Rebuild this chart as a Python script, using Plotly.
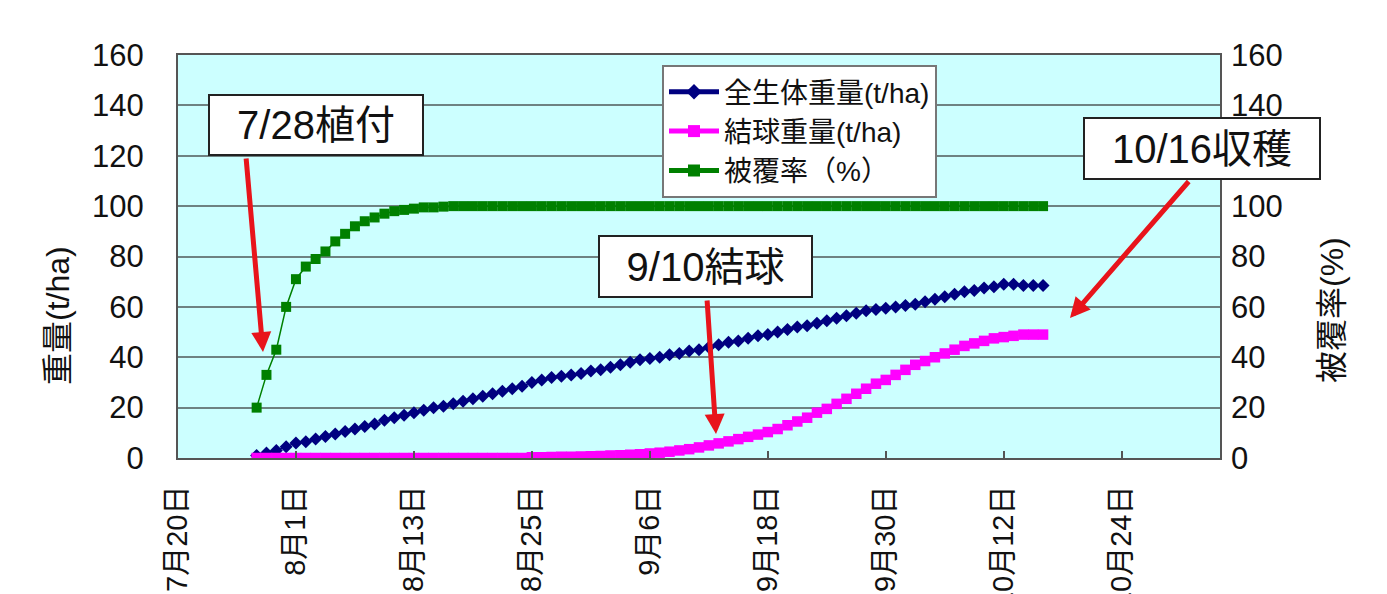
import pandas as pd
import plotly.graph_objects as go

# ---- data (daily, 7/28 .. 10/16) ----
start_date = "2011-07-28"

total_weight = [
    1, 2, 3, 4.5,                                   # Jul 28-31
    6, 6.5, 7.5, 8.5, 9.5, 10.5, 11.5, 12.5, 13.5, 15,
    16, 17, 18, 19, 20, 20.5, 21.5, 22.5, 23.5, 24.5,
    25.5, 26.5, 27.5, 28.5, 30, 31, 32, 32.5, 33, 33.5, 34.5,   # Aug
    35, 36, 37, 38, 39, 39.5, 40, 41, 41.5, 42.5,
    43, 44, 45, 46, 46.5, 47.5, 48.5, 49, 50, 51,
    52, 52.5, 53.5, 54.5, 55.5, 56.5, 57.5, 58.5, 59, 59.5,     # Sep
    60, 60.5, 61, 62, 63, 64, 65, 66, 66.5, 67.5,
    68, 69, 69, 68.5, 68.5, 68.5,                   # Oct 1-16
]

head_weight = [
    0, 0, 0, 0,
    0, 0, 0, 0, 0, 0, 0, 0, 0, 0,
    0, 0, 0, 0, 0, 0, 0, 0, 0, 0,
    0, 0, 0, 0, 0.3, 0.3, 0.4, 0.5, 0.5, 0.6, 0.7,
    0.8, 1, 1.1, 1.3, 1.5, 1.8, 2.1, 2.5, 3, 3.5,
    4.2, 5, 5.8, 6.6, 7.5, 8.4, 9.3, 10.3, 11.5, 13,
    14.5, 16, 18, 19.5, 21.5, 23.5, 25.5, 27.5, 29.5, 31,
    33, 35, 37, 38.5, 40, 41.5, 43, 44.5, 45.5, 46.5,
    47.5, 48, 48.5, 49, 49, 49,
]

coverage = [
    20, 33, 43, 60,
    71, 76, 79, 82, 86, 89, 92, 94, 95.5, 97,
    98, 98.5, 99, 99.5, 99.5, 99.8, 100, 100, 100, 100,
    100, 100, 100, 100, 100, 100, 100, 100, 100, 100, 100,
    100, 100, 100, 100, 100, 100, 100, 100, 100, 100,
    100, 100, 100, 100, 100, 100, 100, 100, 100, 100,
    100, 100, 100, 100, 100, 100, 100, 100, 100, 100,
    100, 100, 100, 100, 100, 100, 100, 100, 100, 100,
    100, 100, 100, 100, 100, 100,
]

legend_labels = ["全生体重量(t/ha)", "結球重量(t/ha)", "被覆率（%）"]

tick_dates = ["2011-07-20", "2011-08-01", "2011-08-13", "2011-08-25", "2011-09-06",
              "2011-09-18", "2011-09-30", "2011-10-12", "2011-10-24"]
tick_labels = ["7月20日", "8月1日", "8月13日", "8月25日", "9月6日",
               "9月18日", "9月30日", "10月12日", "10月24日"]
x_range = ["2011-07-20", "2011-11-03"]
y_ticks = [0, 20, 40, 60, 80, 100, 120, 140, 160]

callouts = ["7/28植付", "9/10結球", "10/16収穫"]
left_title = "重量(t/ha)"
right_title = "被覆率(%)"

# ---- figure ----
dates = pd.date_range(start_date, periods=len(total_weight), freq="D")

PAGE_OFF = 8                 # page body margin in the browser
W, H = 1387 - PAGE_OFF, 594 - PAGE_OFF
L, R, T, B = 170, 167, 47, 136
PW, PH = W - L - R, H - T - B
X0, Y1 = PAGE_OFF + L, PAGE_OFF + H - B   # plot-area left / bottom in page pixels


def px(x):
    return (x - X0) / PW


def py(y):
    return (Y1 - y) / PH


FONT = "Liberation Sans, Arial, Noto Sans CJK JP"

fig = go.Figure()
fig.add_trace(go.Scatter(
    x=dates, y=total_weight, name=legend_labels[0], mode="lines+markers",
    line=dict(color="#000080", width=1.2),
    marker=dict(symbol="diamond", size=10, color="#000080"),
))
fig.add_trace(go.Scatter(
    x=dates, y=head_weight, name=legend_labels[1], mode="lines+markers",
    line=dict(color="#FF00FF", width=1.2),
    marker=dict(symbol="square", size=10.5, color="#FF00FF"),
))
fig.add_trace(go.Scatter(
    x=dates, y=coverage, name=legend_labels[2], mode="lines+markers", yaxis="y2",
    line=dict(color="#008000", width=1.5),
    marker=dict(symbol="square", size=10, color="#008000"),
))

anns = []
boxes = [
    (callouts[0], 316, 125, 216, 62),
    (callouts[1], 705, 266, 215, 63),
    (callouts[2], 1202, 148, 238, 63),
]
for txt, cx, cy, bw, bh in boxes:
    anns.append(dict(
        text=txt, xref="paper", yref="paper", x=px(cx), y=py(cy),
        xanchor="center", yanchor="middle", showarrow=False,
        width=bw - 6, height=bh - 6, bgcolor="white",
        bordercolor="#222222", borderwidth=2, borderpad=1,
        font=dict(family=FONT, size=40, color="#111111"),
    ))
arrows = [
    ((263, 352), (246, 157)),
    ((716, 434), (707, 299)),
    ((1070, 318), (1190, 180)),
]
for (hx, hy), (tx, ty) in arrows:
    anns.append(dict(
        text="", xref="paper", yref="paper", x=px(hx), y=py(hy),
        showarrow=True, axref="pixel", ayref="pixel", ax=tx - hx, ay=ty - hy,
        arrowhead=2, arrowsize=0.8, arrowwidth=5, arrowcolor="#E8141B",
        standoff=0, startstandoff=0,
    ))
anns.append(dict(
    text=left_title, xref="paper", yref="paper", x=px(58), y=py(316),
    textangle=-90, showarrow=False, xanchor="center", yanchor="middle",
    font=dict(family=FONT, size=32, color="#111111"),
))
anns.append(dict(
    text=right_title, xref="paper", yref="paper", x=px(1332), y=py(310),
    textangle=-90, showarrow=False, xanchor="center", yanchor="middle",
    font=dict(family=FONT, size=32, color="#111111"),
))

fig.update_layout(
    width=W, height=H,
    margin=dict(l=L, r=R, t=T, b=B, autoexpand=False),
    paper_bgcolor="white",
    plot_bgcolor="#CCFFFF",
    showlegend=True,
    legend=dict(
        x=px(662), y=py(65), xanchor="left", yanchor="top",
        bgcolor="white", bordercolor="#777777", borderwidth=2,
        font=dict(family=FONT, size=28, color="#111111"),
        itemsizing="constant", tracegroupgap=0, itemwidth=50,
    ),
    xaxis=dict(
        type="date", range=x_range, tickmode="array",
        tickvals=tick_dates, ticktext=tick_labels, tickangle=-90,
        ticks="inside", ticklen=7, tickcolor="#555555", tickwidth=1.5,
        showgrid=False, zeroline=False,
        showline=True, linecolor="#555555", linewidth=2, mirror=True,
        tickfont=dict(family=FONT, size=29, color="#111111"),
        ticklabelstandoff=14, automargin=False,
    ),
    yaxis=dict(
        range=[0, 160], tickmode="array", tickvals=y_ticks,
        showgrid=True, gridcolor="#6E8282", gridwidth=2,
        zeroline=False, showline=True, linecolor="#555555", linewidth=2,
        mirror=True, ticks="",
        tickfont=dict(family=FONT, size=31, color="#111111"),
        ticklabelstandoff=26, automargin=False,
    ),
    yaxis2=dict(
        range=[0, 160], tickmode="array", tickvals=y_ticks,
        overlaying="y", side="right", showgrid=False, zeroline=False,
        showline=False, ticks="",
        tickfont=dict(family=FONT, size=31, color="#111111"),
        ticklabelstandoff=10, automargin=False,
    ),
    annotations=anns,
)

fig.write_html("out.html")
